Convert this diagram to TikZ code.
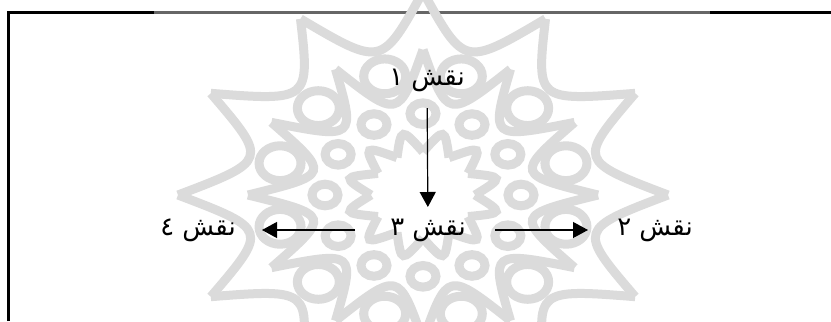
\documentclass[tikz,border=0pt]{standalone}
\usepackage{fontspec}
\newfontfamily\arabicfont[Script=Arabic]{DejaVu Sans}
\TeXXeTstate=1
\usetikzlibrary{arrows.meta}
\begin{document}
\begin{tikzpicture}[x=1bp,y=-1bp,
  label/.style={font=\arabicfont\fontsize{26}{30}\selectfont, inner sep=0pt},
  link/.style={line width=1.2bp, -{Triangle[width=16bp,length=15bp]}},
  orn/.style={draw=black!14, line width=9bp},
  frameline/.style={line width=3bp},
]
\useasboundingbox (0,0) rectangle (831,321);

% open frame: left side and top
\coordinate (fl) at (8.5,321);
\coordinate (fc) at (8.5,12);
\coordinate (fr) at (831,12);
\draw[frameline] (fl) -- (fc) -- (fr);

% rosette ornament in the background
\begin{scope}
  \clip (154,0) rectangle (710,321);
  \fill[white, opacity=0.4] (154,0) rectangle (710,321);
  \begin{scope}[shift={(423,195)}, yscale=0.83]
    \foreach \k in {0,...,11} {
      % outer twelve-pointed star
      \draw[orn] ({30*\k}:245) .. controls ({30*\k+15}:160) .. ({30*\k+30}:245);
      % inner pointed arches
      \draw[orn] ({30*\k}:175) .. controls ({30*\k+15}:95) .. ({30*\k+30}:175);
      % ring of rounds
      \draw[orn] ({30*\k+15}:148) circle (21);
      \draw[orn] ({30*\k}:98) circle (13);
      % central flower
      \draw[orn] ({30*\k}:52) .. controls ({30*\k+15}:84) .. ({30*\k+30}:52);
    }
  \end{scope}
\end{scope}

% labels
\node[label] (n1) at (427,80) {\beginR نقش ١\endR};
\node[label] (n3) at (428,230) {\beginR نقش ٣\endR};
\node[label] (n2) at (655,230) {\beginR نقش ٢\endR};
\node[label] (n4) at (198,230) {\beginR نقش ٤\endR};

% arrows
\draw[link, shorten <=28bp, shorten >=23bp] (n1.center) -- (n3.center);
\draw[link, shorten <=67bp, shorten >=67bp] (n3.center) -- (n2.center);
\draw[link, shorten <=73bp, shorten >=64bp] (n3.center) -- (n4.center);
\end{tikzpicture}
\end{document}
